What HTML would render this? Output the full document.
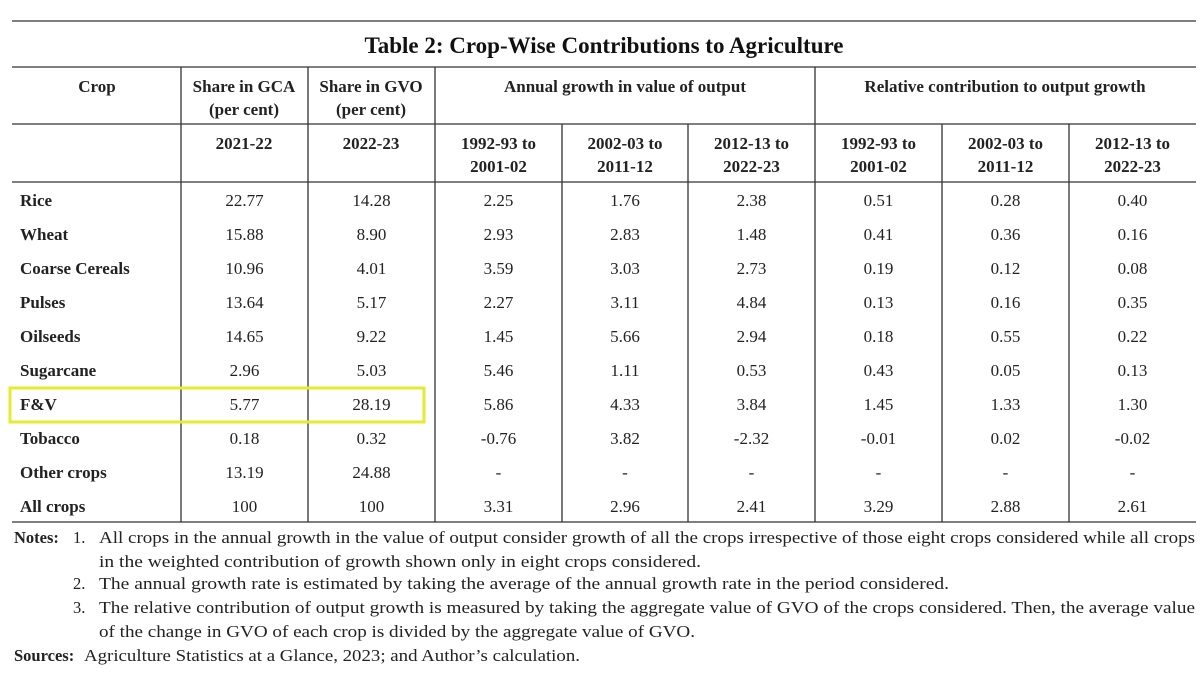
<!DOCTYPE html>
<html><head><meta charset="utf-8"><style>
html,body{margin:0;padding:0;background:#fff;}
svg{display:block;font-family:"Liberation Serif",serif;}
</style></head><body>
<svg id="t" width="1202" height="678" viewBox="0 0 1202 678">
<g id="lines" stroke="#333" stroke-width="1.3"></g>
<text x="604" y="53" text-anchor="middle" font-size="23" font-weight="bold" fill="#111">Table 2: Crop-Wise Contributions to Agriculture</text>
<g id="hdr" font-size="17" font-weight="bold" fill="#222" text-anchor="middle"></g>
<g id="body" font-size="17" fill="#222"></g>
<rect x="10" y="388" width="414" height="34" fill="none" stroke="#e6ea30" stroke-width="3"/>
<g id="notes" font-size="16.5" fill="#222"></g>
</svg>
<script>
const crops = ["Rice","Wheat","Coarse Cereals","Pulses","Oilseeds","Sugarcane","F&V","Tobacco","Other crops","All crops"];
const shareGCA = ["22.77","15.88","10.96","13.64","14.65","2.96","5.77","0.18","13.19","100"];
const shareGVO = ["14.28","8.90","4.01","5.17","9.22","5.03","28.19","0.32","24.88","100"];
const growth1 = ["2.25","2.93","3.59","2.27","1.45","5.46","5.86","-0.76","-","3.31"];
const growth2 = ["1.76","2.83","3.03","3.11","5.66","1.11","4.33","3.82","-","2.96"];
const growth3 = ["2.38","1.48","2.73","4.84","2.94","0.53","3.84","-2.32","-","2.41"];
const contrib1 = ["0.51","0.41","0.19","0.13","0.18","0.43","1.45","-0.01","-","3.29"];
const contrib2 = ["0.28","0.36","0.12","0.16","0.55","0.05","1.33","0.02","-","2.88"];
const contrib3 = ["0.40","0.16","0.08","0.35","0.22","0.13","1.30","-0.02","-","2.61"];
const cols = [shareGCA,shareGVO,growth1,growth2,growth3,contrib1,contrib2,contrib3];
const NS="http://www.w3.org/2000/svg";
const xs=[12,181,308,435,562,688,815,942,1069,1196];
function el(tag,attrs,parent,txt){const e=document.createElementNS(NS,tag);for(const k in attrs)e.setAttribute(k,attrs[k]);if(txt!==undefined)e.textContent=txt;parent.appendChild(e);return e;}
const L=document.getElementById('lines');
[[21],[67],[124],[182],[522]].forEach(([y])=>{const l=el('line',{x1:12,x2:1196,y1:y,y2:y},L);

});
[181,308,435,815].forEach(x=>{const l=el('line',{x1:x,x2:x,y1:67,y2:522},L);

});
[562,688,942,1069].forEach(x=>{const l=el('line',{x1:x,x2:x,y1:124,y2:522},L);

});
const H=document.getElementById('hdr');
function ht(x,y,s,n){const t=el('text',{x:x,y:y},H,s);}
ht(97,92,'Crop','crop-header');
ht(244,92,'Share in GCA','gca-header');ht(244,115,'(per cent)','gca-header-unit');
ht(371,92,'Share in GVO','gvo-header');ht(371,115,'(per cent)','gvo-header-unit');
ht(625,92,'Annual growth in value of output','annual-growth-header');
ht(1005,92,'Relative contribution to output growth','relative-contribution-header');
ht(244,149,'2021-22','gca-year');ht(371,149,'2022-23','gvo-year');
const periods=[['1992-93 to','2001-02'],['2002-03 to','2011-12'],['2012-13 to','2022-23']];
for(let g=0;g<2;g++)for(let p=0;p<3;p++){const cx=(xs[3+g*3+p]+xs[4+g*3+p])/2;ht(cx,149,periods[p][0],'period-header');ht(cx,172,periods[p][1],'period-header');}
const B=document.getElementById('body');
crops.forEach((c,i)=>{const y=206+i*34;
const t=el('text',{x:20,y:y,'font-weight':'bold'},B,c);


cols.forEach((col,j)=>{const cx=(xs[j+1]+xs[j+2])/2;
const v=el('text',{x:cx,y:y,'text-anchor':'middle'},B,col[i]);

});});
const N=document.getElementById('notes');
function nt(x,y,s,len,bold,n){const a={x:x,y:y};if(len){a.textLength=len;a.lengthAdjust='spacingAndGlyphs';}if(bold)a['font-weight']='bold';const t=el('text',a,N,s);}
nt(14,543,'Notes:',0,true,'notes-label');
nt(73,543,'1.',0,false,'note-number');
nt(99,543,'All crops in the annual growth in the value of output consider growth of all the crops irrespective of those eight crops considered while all crops',1096,false,'note-1');
nt(99,567,'in the weighted contribution of growth shown only in eight crops considered.',602,false,'note-1-cont');
nt(73,589,'2.',0,false,'note-number');
nt(99,589,'The annual growth rate is estimated by taking the average of the annual growth rate in the period considered.',850,false,'note-2');
nt(73,613,'3.',0,false,'note-number');
nt(99,613,'The relative contribution of output growth is measured by taking the aggregate value of GVO of the crops considered. Then, the average value',1096,false,'note-3');
nt(99,637,'of the change in GVO of each crop is divided by the aggregate value of GVO.',596,false,'note-3-cont');
nt(14,661,'Sources:',0,true,'sources-label');
nt(84,661,'Agriculture Statistics at a Glance, 2023; and Author\u2019s calculation.',496,false,'sources-text');
</script>
</body></html>
